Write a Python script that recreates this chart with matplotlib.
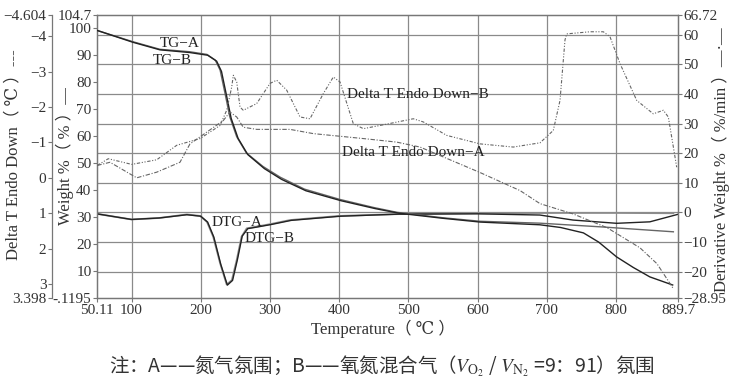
import matplotlib

matplotlib.use("Agg")
import matplotlib.pyplot as plt

# ---------------------------------------------------------------------------
# Data
# ---------------------------------------------------------------------------
X_MIN, X_MAX = 50.11, 889.7
W_MIN, W_MAX = -0.1195, 104.7
D_MIN, D_MAX = -28.95, 66.72
T_MIN, T_MAX = -4.604, 3.398

X_TICKS = [50.11, 100, 200, 300, 400, 500, 600, 700, 800, 889.7]
X_LABELS = ["50.11", "100", "200", "300", "400", "500", "600", "700", "800", "889.7"]
W_TICKS = [W_MIN, 10, 20, 30, 40, 50, 60, 70, 80, 90, 100, W_MAX]
W_LABELS = ["-.1195", "10", "20", "30", "40", "50", "60", "70", "80", "90", "100", "104.7"]
D_TICKS = [D_MIN, -20, -10, 0, 10, 20, 30, 40, 50, 60, D_MAX]
D_LABELS = ["\u221228.95", "\u221220", "\u221210", "0", "10", "20", "30", "40", "50", "60", "66.72"]
T_TICKS = [T_MIN, -4, -3, -2, -1, 0, 1, 2, 3, T_MAX]
T_LABELS = ["\u22124.604", "\u22124", "\u22123", "\u22122", "\u22121", "0", "1", "2", "3", "3.398"]

# TG (weight %)
tg_a_t = [50.1, 102, 141, 184, 209, 221, 228, 235, 242, 252, 266, 290, 315, 350,
          401, 450, 484, 550, 604, 690, 780, 883]
tg_a_w = [99.0, 94.8, 92.0, 91.1, 90.1, 88.0, 84.3, 75.8, 67.0, 59.6, 53.6, 48.6,
          44.6, 40.2, 36.4, 33.4, 31.6, 29.6, 28.3, 27.6, 26.2, 24.4]
tg_b_t = [50.1, 102, 141, 184, 210, 223, 230, 237, 244, 254, 268, 292, 317, 352,
          403, 452, 486, 550, 604, 690, 720, 753, 775, 801, 825, 849, 882]
tg_b_w = [99.0, 94.6, 91.8, 90.8, 89.8, 87.6, 83.8, 75.2, 66.4, 59.0, 53.0, 47.8,
          43.8, 39.6, 35.9, 33.0, 31.3, 29.4, 28.0, 27.0, 26.0, 24.0, 20.6, 15.1,
          11.2, 7.7, 4.7]

# DTG (derivative weight %/min)
dtg_a_t = [50.1, 100, 140, 180, 199, 209, 218, 228, 237.5, 245, 252, 259, 266.5,
           281, 300, 329, 400, 484, 600, 719, 800, 883]
dtg_a_d = [-0.5, -2.4, -1.9, -0.7, -1.2, -3.2, -8.2, -17.2, -24.4, -22.9, -16.1,
           -8.2, -5.4, -4.8, -4.0, -2.6, -1.2, -0.6, -0.3, -0.2, -0.2, -0.3]
dtg_b_t = [50.1, 100, 140, 180, 200, 210, 219, 229, 238.5, 246, 253, 260, 268,
           283, 302, 331, 402, 486, 600, 690, 738, 801, 849, 889]
dtg_b_d = [-0.5, -2.4, -1.9, -0.8, -1.3, -3.3, -8.4, -17.6, -24.6, -23.0, -16.0,
           -8.0, -5.5, -4.9, -4.1, -2.7, -1.3, -0.6, -0.5, -0.9, -2.6, -3.7, -3.2, -0.7]

# Delta T Endo Down (deg C)
dt_a_t = [50.5, 68.9, 107.5, 136.4, 170, 184.5, 232.6, 242.3, 252, 261.5, 280.9,
          329, 362.7, 435, 483.2, 516.9, 545.8, 603.6, 661.4, 690.3, 738, 787.2,
          834.8, 859.4, 882.5]
dt_a_v = [-0.35, -0.44, 0.0, -0.16, -0.44, -0.96, -1.62, -1.86, -1.72, -1.43,
          -1.37, -1.37, -1.25, -1.11, -1.01, -0.87, -0.63, -0.15, 0.36, 0.73,
          1.02, 1.41, 1.98, 2.43, 3.12]
dt_b_t = [50.5, 66.4, 100.3, 136.4, 165.3, 199, 227.9, 237.5, 244.8, 247.1, 252,
          256.8, 261.5, 280.9, 300.1, 309.8, 324.2, 343.5, 357.9, 377.1, 391.6,
          401.3, 420.5, 435, 459, 507.2, 521.7, 555.5, 603.6, 651.7, 690.3, 709.5,
          719.2, 726.4, 728.9, 762.5, 781.8, 791.4, 805.9, 830, 854, 868.5, 875.7,
          883, 887.8]
dt_b_v = [-0.35, -0.54, -0.38, -0.51, -0.92, -1.11, -1.48, -1.91, -2.57, -2.90,
          -2.71, -2.00, -1.91, -2.10, -2.67, -2.76, -2.48, -1.72, -1.67, -2.38,
          -2.85, -2.71, -1.53, -1.39, -1.48, -1.67, -1.58, -1.20, -0.96, -0.87,
          -0.99, -1.34, -2.19, -3.90, -4.07, -4.13, -4.13, -3.99, -3.23, -2.19,
          -1.81, -1.91, -1.72, -0.87, -0.30]

# ---------------------------------------------------------------------------
# Style
# ---------------------------------------------------------------------------
SERIF = ["Liberation Serif", "DejaVu Serif", "Noto Sans CJK SC"]
plt.rcParams["font.family"] = SERIF
plt.rcParams["mathtext.fontset"] = "stix"
TEXT = "#333333"
GRID = "#8a8a8a"
SPINE = "#777777"
DARK = "#222222"
MID = "#666666"
FS = 11
TICK_FS = 11
TITLE_FS = 12

W, H = 736, 385
fig = plt.figure(figsize=(W / 100, H / 100), dpi=100)
L, R, T, B = 97, 678, 15, 298
ax = fig.add_axes([L / W, 1 - B / H, (R - L) / W, (B - T) / H])
ax_d = ax.twinx()
ax_t = ax.twinx()

ax_d.set_zorder(0)
ax.set_zorder(1)
ax_t.set_zorder(2)
ax.patch.set_visible(False)
ax_t.patch.set_visible(False)

ax.set_xlim(X_MIN, X_MAX)
ax.set_ylim(W_MIN, W_MAX)
ax_d.set_ylim(D_MIN, D_MAX)
ax_t.set_ylim(T_MAX, T_MIN)  # endo down: inverted

# grid: vertical at temperature ticks, horizontal at derivative ticks
for x in X_TICKS[1:-1]:
    ax_d.axvline(x, color=GRID, lw=0.9, zorder=0)
for y in D_TICKS[1:-1]:
    ax_d.axhline(y, color=GRID, lw=0.9, zorder=0)

# curves
ax_d.plot(dtg_a_t, dtg_a_d, color="#8c8c8c", lw=1.3, zorder=3)
ax_d.plot(dtg_b_t, dtg_b_d, color=DARK, lw=1.0, zorder=3)
ax.plot(tg_a_t, tg_a_w, color=MID, lw=1.0, zorder=3)
ax.plot(tg_b_t, tg_b_w, color=DARK, lw=1.0, zorder=3)
ax_t.plot(dt_a_t, dt_a_v, color=MID, lw=0.8, ls=(0, (4, 1.5, 1, 1.5)), zorder=3)
ax_t.plot(dt_b_t, dt_b_v, color=MID, lw=0.8, ls=(0, (3, 1.5, 1, 1.5, 1, 1.5)), zorder=3)

# in-plot labels
lab = dict(fontsize=FS, color=DARK, va="center", ha="left")
ax.text(141, 94.0, "TG\u2212A", **lab)
ax.text(131, 88.0, "TG\u2212B", **lab)
ax.text(411, 75.4, "Delta T Endo Down\u2212B", **lab)
ax.text(404, 53.6, "Delta T Endo Down\u2212A", **lab)
ax.text(216, 28.0, "DTG\u2212A", **lab)
ax.text(264, 22.1, "DTG\u2212B", **lab)

# axes, ticks
for a in (ax, ax_d, ax_t):
    for s in a.spines.values():
        s.set_color(SPINE)
        s.set_linewidth(0.9)
    a.tick_params(colors=SPINE, labelcolor=TEXT, labelsize=TICK_FS, length=3,
                  width=0.8, pad=1)

ax.set_xticks(X_TICKS)
ax.set_xticklabels(X_LABELS)
ax.set_yticks(W_TICKS)
ax.set_yticklabels(W_LABELS)
ax_d.set_yticks(D_TICKS)
ax_d.set_yticklabels(D_LABELS)
ax_t.set_yticks(T_TICKS)
ax_t.set_yticklabels(T_LABELS)

# outer Delta T axis: 45 px left of the weight axis (offset given in points)
ax_t.spines["left"].set_position(("outward", 45 * 72 / 100))
ax_t.spines["left"].set_visible(True)
ax_t.spines["right"].set_visible(False)
ax_t.yaxis.set_ticks_position("left")
ax_t.spines["top"].set_visible(False)
ax_t.spines["bottom"].set_visible(False)

# axis titles
fig.text(383 / W, 1 - 329 / H, "Temperature\uff08 \u2103 \uff09", fontsize=TITLE_FS,
         color=TEXT, ha="center", va="center")
fig.text(65 / W, 1 - 156 / H, "Weight %\uff08 % \uff09\u2014", fontsize=TITLE_FS,
         color=TEXT, ha="center", va="center", rotation=90)
fig.text(13 / W, 1 - 155 / H, "Delta T Endo Down\uff08 \u2103 \uff09---", fontsize=TITLE_FS,
         color=TEXT, ha="center", va="center", rotation=90)
fig.text(721 / W, 1 - 160 / H, "Derivative Weight %\uff08 %/min \uff09\u2014\u00b7\u2014",
         fontsize=TITLE_FS, color=TEXT, ha="center", va="center", rotation=90)

# caption
fig.text(382 / W, 1 - 366 / H,
         "注：A——氮气氛围；B——氧氮混合气（$V_{\\mathrm{O_2}}$ / $V_{\\mathrm{N_2}}$ =9：91）氛围",
         fontsize=14, color=TEXT, ha="center", va="center",
         family=["Noto Sans CJK SC", "DejaVu Sans"])

fig.savefig("out.png", dpi=100)
